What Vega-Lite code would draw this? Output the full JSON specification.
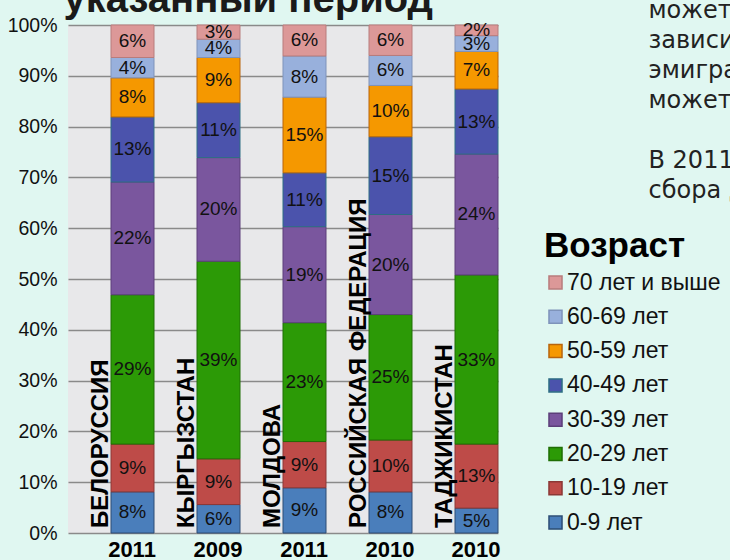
{
  "$schema": "https://vega.github.io/schema/vega-lite/v6.json",
  "width": 430,
  "height": 508,
  "autosize": {"type": "none"},
  "padding": {"left": 68, "top": 25, "right": 232, "bottom": 27},
  "background": "#e0f7f1",
  "data": {"values": [
    {"country": "БЕЛОРУССИЯ", "year": "2011", "age": "0-9 лет", "value": 8.1},
    {"country": "БЕЛОРУССИЯ", "year": "2011", "age": "10-19 лет", "value": 9.4},
    {"country": "БЕЛОРУССИЯ", "year": "2011", "age": "20-29 лет", "value": 29.4},
    {"country": "БЕЛОРУССИЯ", "year": "2011", "age": "30-39 лет", "value": 22.2},
    {"country": "БЕЛОРУССИЯ", "year": "2011", "age": "40-49 лет", "value": 12.8},
    {"country": "БЕЛОРУССИЯ", "year": "2011", "age": "50-59 лет", "value": 7.7},
    {"country": "БЕЛОРУССИЯ", "year": "2011", "age": "60-69 лет", "value": 4.0},
    {"country": "БЕЛОРУССИЯ", "year": "2011", "age": "70 лет и выше", "value": 6.4},
    {"country": "КЫРГЫЗСТАН", "year": "2009", "age": "0-9 лет", "value": 5.6},
    {"country": "КЫРГЫЗСТАН", "year": "2009", "age": "10-19 лет", "value": 9.0},
    {"country": "КЫРГЫЗСТАН", "year": "2009", "age": "20-29 лет", "value": 38.9},
    {"country": "КЫРГЫЗСТАН", "year": "2009", "age": "30-39 лет", "value": 20.4},
    {"country": "КЫРГЫЗСТАН", "year": "2009", "age": "40-49 лет", "value": 10.8},
    {"country": "КЫРГЫЗСТАН", "year": "2009", "age": "50-59 лет", "value": 8.9},
    {"country": "КЫРГЫЗСТАН", "year": "2009", "age": "60-69 лет", "value": 3.6},
    {"country": "КЫРГЫЗСТАН", "year": "2009", "age": "70 лет и выше", "value": 2.8},
    {"country": "МОЛДОВА", "year": "2011", "age": "0-9 лет", "value": 8.9},
    {"country": "МОЛДОВА", "year": "2011", "age": "10-19 лет", "value": 9.1},
    {"country": "МОЛДОВА", "year": "2011", "age": "20-29 лет", "value": 23.4},
    {"country": "МОЛДОВА", "year": "2011", "age": "30-39 лет", "value": 18.9},
    {"country": "МОЛДОВА", "year": "2011", "age": "40-49 лет", "value": 10.6},
    {"country": "МОЛДОВА", "year": "2011", "age": "50-59 лет", "value": 14.9},
    {"country": "МОЛДОВА", "year": "2011", "age": "60-69 лет", "value": 8.1},
    {"country": "МОЛДОВА", "year": "2011", "age": "70 лет и выше", "value": 6.1},
    {"country": "РОССИЙСКАЯ ФЕДЕРАЦИЯ", "year": "2010", "age": "0-9 лет", "value": 8.1},
    {"country": "РОССИЙСКАЯ ФЕДЕРАЦИЯ", "year": "2010", "age": "10-19 лет", "value": 10.2},
    {"country": "РОССИЙСКАЯ ФЕДЕРАЦИЯ", "year": "2010", "age": "20-29 лет", "value": 24.7},
    {"country": "РОССИЙСКАЯ ФЕДЕРАЦИЯ", "year": "2010", "age": "30-39 лет", "value": 19.7},
    {"country": "РОССИЙСКАЯ ФЕДЕРАЦИЯ", "year": "2010", "age": "40-49 лет", "value": 15.3},
    {"country": "РОССИЙСКАЯ ФЕДЕРАЦИЯ", "year": "2010", "age": "50-59 лет", "value": 10.1},
    {"country": "РОССИЙСКАЯ ФЕДЕРАЦИЯ", "year": "2010", "age": "60-69 лет", "value": 5.9},
    {"country": "РОССИЙСКАЯ ФЕДЕРАЦИЯ", "year": "2010", "age": "70 лет и выше", "value": 6.0},
    {"country": "ТАДЖИКИСТАН", "year": "2010", "age": "0-9 лет", "value": 4.9},
    {"country": "ТАДЖИКИСТАН", "year": "2010", "age": "10-19 лет", "value": 12.6},
    {"country": "ТАДЖИКИСТАН", "year": "2010", "age": "20-29 лет", "value": 33.3},
    {"country": "ТАДЖИКИСТАН", "year": "2010", "age": "30-39 лет", "value": 23.8},
    {"country": "ТАДЖИКИСТАН", "year": "2010", "age": "40-49 лет", "value": 12.8},
    {"country": "ТАДЖИКИСТАН", "year": "2010", "age": "50-59 лет", "value": 7.4},
    {"country": "ТАДЖИКИСТАН", "year": "2010", "age": "60-69 лет", "value": 3.1},
    {"country": "ТАДЖИКИСТАН", "year": "2010", "age": "70 лет и выше", "value": 2.1}
  ]},
  "transform": [
    {"calculate": "datum.country + '|' + datum.year", "as": "key"},
    {"calculate": "indexof(['0-9 лет','10-19 лет','20-29 лет','30-39 лет','40-49 лет','50-59 лет','60-69 лет','70 лет и выше'], datum.age)", "as": "ord"},
    {"stack": "value", "groupby": ["key"], "sort": [{"field": "ord", "order": "ascending"}], "as": ["y0", "y1"]},
    {"calculate": "(datum.y0 + datum.y1) / 2", "as": "ymid"},
    {"calculate": "format(datum.value, '.0f') + '%'", "as": "label"}
  ],
  "encoding": {
    "x": {
      "field": "key", "type": "nominal", "sort": null,
      "scale": {"paddingInner": 0, "paddingOuter": 0},
      "axis": {
        "orient": "bottom", "labelExpr": "split(datum.label, '|')[1]", "labelOffset": 21, "labelAngle": 0,
        "labelFont": "Liberation Sans", "labelFontSize": 22, "labelFontWeight": "bold", "labelColor": "#000000",
        "labelPadding": 6, "ticks": false, "domain": false, "grid": false,
        "title": ["может быть", "зависит от", "эмиграции", "может быть"],
        "titleX": 580, "titleY": -516, "titleAlign": "left", "titleAngle": 0, "titleBaseline": "alphabetic",
        "titleFont": "DejaVu Sans", "titleFontSize": 24, "titleFontWeight": "normal", "titleColor": "#222222", "titleLineHeight": 30
      }
    },
    "xOffset": {"datum": "bar", "scale": {"domain": ["label", "bar"], "paddingInner": 0, "paddingOuter": 0}}
  },
  "layer": [
    {
      "mark": {"type": "bar", "strokeWidth": 1},
      "encoding": {
        "y": {"field": "y0", "type": "quantitative", "scale": {"domain": [0, 100]},
          "axis": {"values": [0, 10, 20, 30, 40, 50, 60, 70, 80, 90, 100], "labelExpr": "datum.value + '%'",
            "labelFont": "Liberation Sans", "labelFontSize": 19.5, "labelColor": "#111111", "labelPadding": 11,
            "ticks": false, "domain": false, "grid": true, "gridColor": "#8a8a8a", "gridWidth": 1.5,
            "title": ["В 2011 году", "сбора данных"],
            "titleX": 580, "titleY": 142, "titleAlign": "left", "titleAngle": 0, "titleBaseline": "alphabetic",
            "titleFont": "DejaVu Sans", "titleFontSize": 24, "titleFontWeight": "normal", "titleColor": "#222222", "titleLineHeight": 30}},
        "y2": {"field": "y1"},
        "color": {"field": "age", "type": "nominal",
          "scale": {"domain": ["70 лет и выше", "60-69 лет", "50-59 лет", "40-49 лет", "30-39 лет", "20-29 лет", "10-19 лет", "0-9 лет"],
            "range": ["#dc9898", "#98b0dc", "#f59800", "#4b53ac", "#7a569e", "#2c9a06", "#be4b48", "#4a7ebb"]},
          "legend": {"orient": "none", "legendX": 476, "legendY": 204, "title": "Возраст",
            "titleFont": "Liberation Sans", "titleFontSize": 35, "titleFontWeight": "bold", "titleColor": "#000000", "titlePadding": 7,
            "labelFont": "Liberation Sans", "labelFontSize": 23, "labelColor": "#111111", "labelOffset": 0,
            "symbolType": "square", "symbolSize": 170, "symbolStrokeWidth": 1.5, "rowPadding": 10.3}},
        "stroke": {"field": "age", "type": "nominal",
          "scale": {"domain": ["70 лет и выше", "60-69 лет", "50-59 лет", "40-49 лет", "30-39 лет", "20-29 лет", "10-19 лет", "0-9 лет"],
            "range": ["#b87c7c", "#7e93ba", "#b8650c", "#2e6e84", "#5c3f7a", "#1f6e04", "#8c3836", "#2c4d75"]}}
      }
    },
    {
      "mark": {"type": "text", "font": "Liberation Sans", "fontSize": 19, "color": "#111111", "baseline": "middle"},
      "encoding": {
        "y": {"field": "ymid", "type": "quantitative"},
        "text": {"field": "label"}
      }
    },
    {
      "transform": [{"filter": "datum.ord == 0"}],
      "mark": {"type": "text", "angle": 270, "align": "left", "baseline": "middle", "dx": 5, "dy": 11,
        "font": "Liberation Sans", "fontSize": 24, "fontWeight": "bold", "color": "#000000"},
      "encoding": {
        "xOffset": {"datum": "label"},
        "y": {"datum": 0, "type": "quantitative"},
        "text": {"field": "country"}
      }
    },
    {
      "data": {"values": [{"heading": "указанный период"}]},
      "mark": {"type": "text", "align": "left", "baseline": "alphabetic", "dx": -26,
        "font": "Liberation Sans", "fontSize": 40, "fontWeight": "bold", "color": "#1a1a1a", "clip": false},
      "encoding": {
        "x": {"datum": "БЕЛОРУССИЯ|2011", "bandPosition": 0},
        "xOffset": {"datum": "label"},
        "y": {"datum": 102.56, "type": "quantitative"},
        "text": {"field": "heading"}
      }
    }
  ],
  "config": {
    "view": {"fill": "#e8e8ea", "stroke": null}
  }
}
